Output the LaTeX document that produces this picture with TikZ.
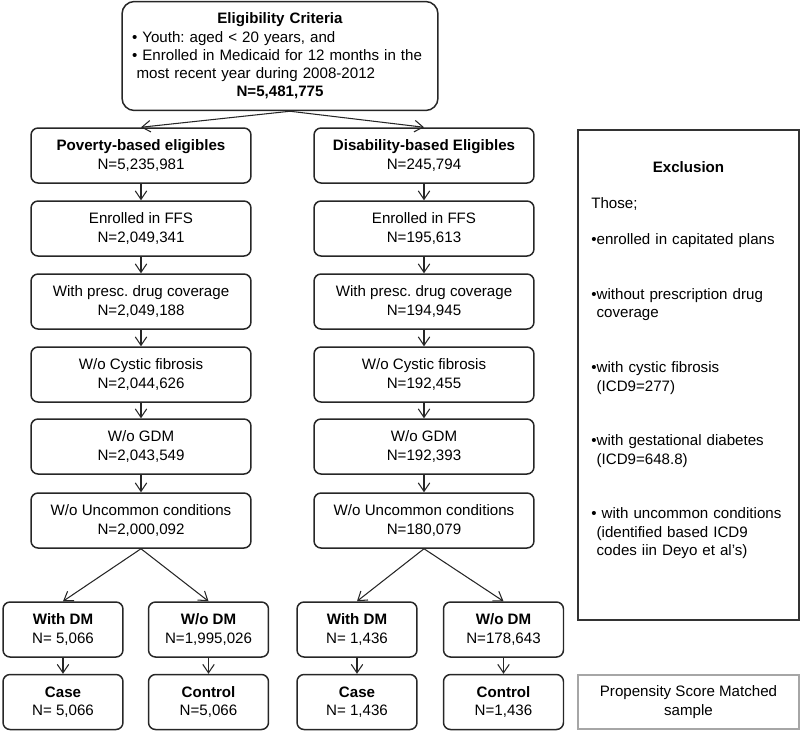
\documentclass[tikz,border=0pt]{standalone}
\usepackage{fontspec}
\setmainfont{Liberation Sans}
\usetikzlibrary{arrows.meta}
\frenchspacing

\begin{document}
\begin{tikzpicture}[x=0.02cm, y=-0.02cm,
    font=\fontsize{8.6}{10.4}\selectfont,
    flowbox/.style={draw=black!85, line width=0.85pt, rounded corners=4pt, align=center,
        minimum width=4.4cm, minimum height=1.1cm, inner sep=0pt},
    dmbox/.style={flowbox, minimum width=2.4cm},
    critbox/.style={flowbox, rounded corners=7pt, text width=5.92cm, inner xsep=0.2cm,
        minimum height=2.18cm, align=left},
    flowarrow/.style={draw=black!85, line width=0.6pt, -{Straight Barb[length=1.7mm, width=2.3mm]}},
    exclframe/.style={draw=black!80, line width=0.75pt},
    psmframe/.style={draw=black!35, line width=0.8pt, align=center, minimum width=4.42cm, minimum height=1.08cm, inner sep=0pt}]
\useasboundingbox (0,0) rectangle (800,731);

% eligibility criteria
\node[critbox] (crit) at (280,56) {\centerline{\textbf{Eligibility Criteria}}
\textbullet\ Youth: aged < 20 years, and\\
\textbullet\ Enrolled in Medicaid for 12 months in the\\
\hspace*{0.3em}most recent year during 2008-2012\par
\centerline{\textbf{N=5,481,775}}};

% poverty-based column
\node[flowbox] (pov) at (141,155.5) {\textbf{Poverty-based eligibles}\\N=5,235,981};
\node[flowbox] (pffs) at (141,228.5) {Enrolled in FFS\\N=2,049,341};
\node[flowbox] (pdrug) at (141,301.5) {With presc. drug coverage\\N=2,049,188};
\node[flowbox] (pcf) at (141,374.5) {W/o Cystic fibrosis\\N=2,044,626};
\node[flowbox] (pgdm) at (141,446.5) {W/o GDM\\N=2,043,549};
\node[flowbox] (punc) at (141,520.5) {W/o Uncommon conditions\\N=2,000,092};
\node[dmbox] (pdm) at (63,629.5) {\textbf{With DM}\\N= 5,066};
\node[dmbox] (pnodm) at (208.5,629.5) {\textbf{W/o DM}\\N=1,995,026};
\node[dmbox] (pcase) at (63,702) {\textbf{Case}\\N= 5,066};
\node[dmbox] (pctrl) at (208.5,702) {\textbf{Control}\\N=5,066};

% disability-based column
\node[flowbox] (dis) at (424,155.5) {\textbf{Disability-based Eligibles}\\N=245,794};
\node[flowbox] (dffs) at (424,228.5) {Enrolled in FFS\\N=195,613};
\node[flowbox] (ddrug) at (424,301.5) {With presc. drug coverage\\N=194,945};
\node[flowbox] (dcf) at (424,374.5) {W/o Cystic fibrosis\\N=192,455};
\node[flowbox] (dgdm) at (424,446.5) {W/o GDM\\N=192,393};
\node[flowbox] (dunc) at (424,520.5) {W/o Uncommon conditions\\N=180,079};
\node[dmbox] (ddm) at (357,629.5) {\textbf{With DM}\\N= 1,436};
\node[dmbox] (dnodm) at (503.5,629.5) {\textbf{W/o DM}\\N=178,643};
\node[dmbox] (dcase) at (357,702) {\textbf{Case}\\N= 1,436};
\node[dmbox] (dctrl) at (503.5,702) {\textbf{Control}\\N=1,436};

% arrows
\draw[flowarrow] ([xshift=0.2cm]crit.south) -- (pov.north);
\draw[flowarrow] ([xshift=0.2cm]crit.south) -- (dis.north);
\draw[flowarrow] (pov) -- (pffs);
\draw[flowarrow] (pffs) -- (pdrug);
\draw[flowarrow] (pdrug) -- (pcf);
\draw[flowarrow] (pcf) -- (pgdm);
\draw[flowarrow] (pgdm) -- (punc);
\draw[flowarrow] (punc.south) -- (pdm.north);
\draw[flowarrow] (punc.south) -- (pnodm.north);
\draw[flowarrow] (pdm) -- (pcase);
\draw[flowarrow] (pnodm) -- (pctrl);
\draw[flowarrow] (dis) -- (dffs);
\draw[flowarrow] (dffs) -- (ddrug);
\draw[flowarrow] (ddrug) -- (dcf);
\draw[flowarrow] (dcf) -- (dgdm);
\draw[flowarrow] (dgdm) -- (dunc);
\draw[flowarrow] (dunc.south) -- (ddm.north);
\draw[flowarrow] (dunc.south) -- (dnodm.north);
\draw[flowarrow] (ddm) -- (dcase);
\draw[flowarrow] (dnodm) -- (dctrl);

% exclusion box
\draw[exclframe] (578,130) rectangle (799,620);
\node[font=\fontsize{8.6}{10.4}\selectfont\bfseries] (excltitle) at (688.5,167) {Exclusion};
\node[anchor=north west, text width=3.9cm, align=left, inner sep=0pt] (excl) at (591,197) {Those;\\[10.4pt]
\textbullet enrolled in capitated plans\\[20.8pt]
\textbullet without prescription drug\\\hspace*{0.35em}coverage\\[20.8pt]
\textbullet with cystic fibrosis\\\hspace*{0.35em}(ICD9=277)\\[20.8pt]
\textbullet with gestational diabetes\\\hspace*{0.35em}(ICD9=648.8)\\[20.8pt]
\textbullet\ with uncommon conditions\\\hspace*{0.35em}(identified based ICD9\\\hspace*{0.35em}codes iin Deyo et al’s)};

\node[psmframe] (psm) at (688.5,702) {Propensity Score Matched\\sample};
\end{tikzpicture}
\end{document}
